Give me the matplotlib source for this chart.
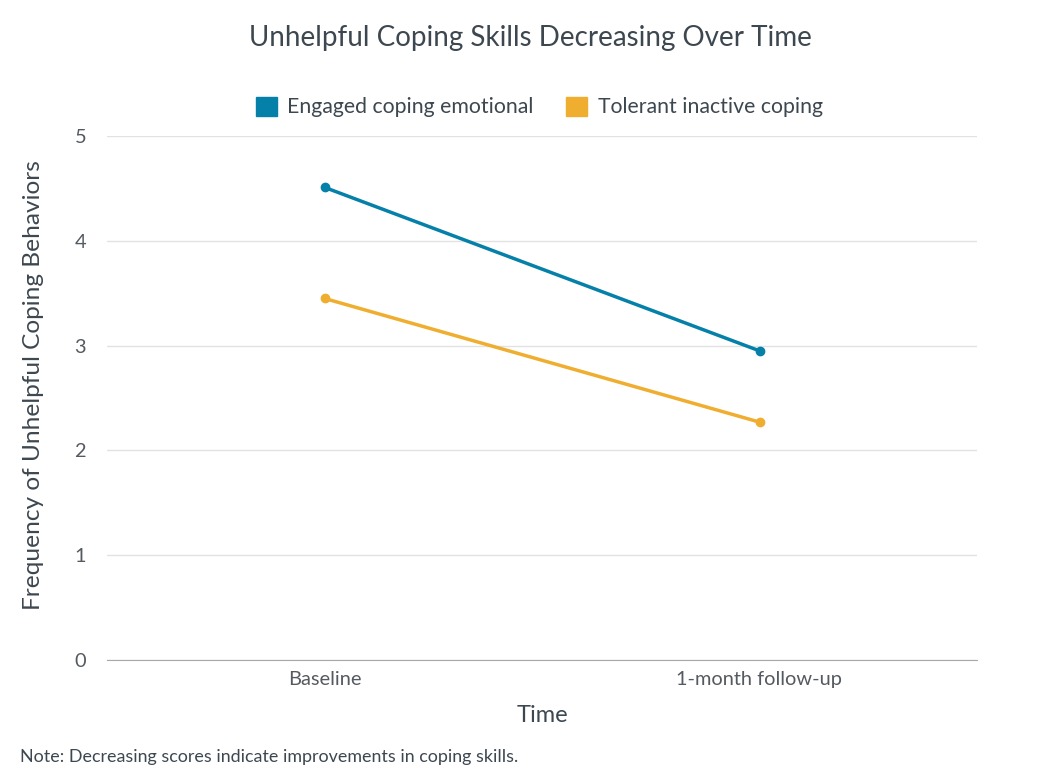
import matplotlib
matplotlib.use("Agg")
import matplotlib.pyplot as plt

plt.rcParams['font.family'] = ['Lato', 'DejaVu Sans']

times = ['Baseline', '1-month follow-up']
engaged = [4.51, 2.95]
tolerant = [3.45, 2.27]
series_names = ['Engaged coping emotional', 'Tolerant inactive coping']
yticks = [0, 1, 2, 3, 4, 5]

teal = '#0580a8'
gold = '#efae30'
text_col = '#3d4750'

fig = plt.figure(figsize=(10.6, 7.68), dpi=100)
ax = fig.add_axes([107/1060, 1 - 660/768, 870/1060, (660 - 136)/768])

x = list(range(len(times)))
ax.plot(x, engaged, color=teal, lw=2.5, marker='o', ms=6, label=series_names[0])
ax.plot(x, tolerant, color=gold, lw=2.5, marker='o', ms=6, label=series_names[1])

ax.set_xlim(-0.5, len(times) - 0.5)
ax.set_ylim(0, 5)
ax.set_yticks(yticks)
ax.set_xticks(x)
ax.set_xticklabels(times)
ax.grid(axis='y', color='#e2e2e2', lw=1)
ax.set_axisbelow(True)
for s in ['top', 'right', 'left']:
    ax.spines[s].set_visible(False)
ax.spines['bottom'].set_color('#a8a8a8')
ax.tick_params(length=0, labelsize=14.4, colors='#555a60')
ax.tick_params(axis='x', pad=8)
ax.tick_params(axis='y', pad=15)

ax.set_xlabel('Time', fontsize=17, color=text_col, labelpad=12)
ax.set_ylabel('Frequency of Unhelpful Coping Behaviors', fontsize=17.6, color=text_col,
              va='center')
ax.yaxis.set_label_coords(-0.085, 0.525)

fig.text(530/1060, 1 - 38/768, 'Unhelpful Coping Skills Decreasing Over Time',
         ha='center', va='center', fontsize=20, color=text_col)

handles = [plt.Rectangle((0, 0), 1, 1, color=teal), plt.Rectangle((0, 0), 1, 1, color=gold)]
fig.legend(handles, series_names, loc='center', bbox_to_anchor=(539/1060, 1 - 107/768),
           ncol=2, frameon=False, fontsize=15.3, labelcolor=text_col,
           handlelength=1.0, handleheight=1.0, handletextpad=0.5, columnspacing=1.5)

fig.text(20/1060, 1 - 757/768, 'Note: Decreasing scores indicate improvements in coping skills.',
         ha='left', va='center', fontsize=12.9, color=text_col)

fig.savefig('out.png', dpi=100)
